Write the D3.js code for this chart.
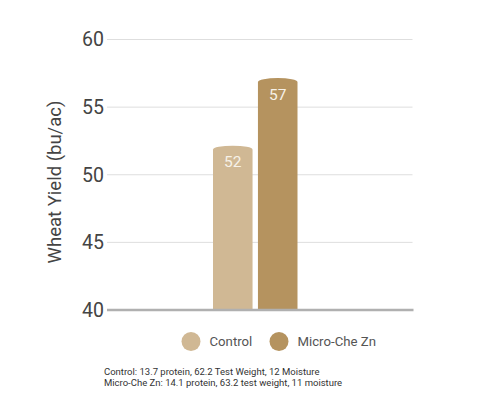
<!DOCTYPE html>
<html>
<head>
<meta charset="utf-8">
<script src="https://cdn.jsdelivr.net/npm/d3@7"></script>
<style>
  body { margin: 0; background: #fff; }
  svg { display: block; font-family: Roboto, "Noto Sans", sans-serif; }
</style>
</head>
<body>
<div id="chart"></div>
<script>
// Wheat yield bar chart

const width = 500;
const height = 414;

// data
const categories = ["Control", "Micro-Che Zn"];
const yields = [52, 57];
const colors = ["#d0b894", "#b5935f"];
const yTicks = [40, 45, 50, 55, 60];
const notes = [
  "Control: 13.7 protein, 62.2 Test Weight, 12 Moisture",
  "Micro-Che Zn: 14.1 protein, 63.2 test weight, 11 moisture"
];

const svg = d3.select("#chart")
  .append("svg")
  .attr("width", width)
  .attr("height", height);

// scales
const yScale = d3.scaleLinear()
  .domain([40, 60])
  .range([310, 39.5]);

const xScale = d3.scaleBand()
  .domain(categories)
  .range([213, 297.5])
  .paddingInner(0.12)
  .paddingOuter(0);

const plotLeft = 107, plotRight = 412.5;

// gridlines
svg.append("g")
  .selectAll("line")
  .data(yTicks.slice(1))
  .enter()
  .append("line")
    .attr("x1", plotLeft)
    .attr("x2", plotRight)
    .attr("y1", d => yScale(d))
    .attr("y2", d => yScale(d))
    .attr("stroke", "#dedede")
    .attr("stroke-width", 1);

// y axis (labels only)
const yAxis = svg.append("g")
  .attr("transform", `translate(${plotLeft}, 0)`)
  .call(d3.axisLeft(yScale).tickValues(yTicks).tickSize(0).tickPadding(3));
yAxis.select(".domain").remove();
yAxis.selectAll("text")
  .attr("font-size", "19.5px")
  .attr("font-family", "Roboto, sans-serif")
  .attr("fill", "#444");

// axis title
svg.append("text")
  .attr("transform", `translate(61, 182) rotate(-90)`)
  .attr("text-anchor", "middle")
  .attr("font-size", "18.5px")
  .attr("fill", "#444")
  .text("Wheat Yield (bu/ac)");

// bars with rounded cap
const capRy = 4;
const barPath = function(d, i) {
  const x0 = xScale(categories[i]);
  const x1 = x0 + xScale.bandwidth();
  const base = yScale(40);
  const top = yScale(d) + capRy / 2;
  const rx = xScale.bandwidth() / 2;
  return `M${x0},${base} L${x0},${top} A${rx},${capRy} 0 0 1 ${x1},${top} L${x1},${base} Z`;
};

svg.selectAll(".bar")
  .data(yields)
  .enter()
  .append("path")
    .attr("class", "bar")
    .attr("d", barPath)
    .attr("fill", (d, i) => colors[i]);

// value labels
svg.selectAll(".val")
  .data(yields)
  .enter()
  .append("text")
    .attr("class", "val")
    .attr("x", (d, i) => xScale(categories[i]) + xScale.bandwidth() / 2)
    .attr("y", d => yScale(d) + 19.5)
    .attr("text-anchor", "middle")
    .attr("font-size", "15.5px")
    .attr("fill", "#f7f2e8")
    .text(d => d);

// baseline
svg.append("line")
  .attr("x1", plotLeft)
  .attr("x2", plotRight + 1)
  .attr("y1", yScale(40))
  .attr("y2", yScale(40))
  .attr("stroke", "#b0b0b0")
  .attr("stroke-width", 2.5);

// legend
const legendX = [191, 279];
const legend = svg.selectAll(".legend")
  .data(categories)
  .enter()
  .append("g")
    .attr("class", "legend")
    .attr("transform", (d, i) => `translate(${legendX[i]}, 341.5)`);
legend.append("circle")
  .attr("r", 9.5)
  .attr("fill", (d, i) => colors[i]);
legend.append("text")
  .attr("x", 18.5)
  .attr("dy", "0.36em")
  .attr("font-size", "13.2px")
  .attr("fill", "#555")
  .text(d => d);

// footnote
svg.selectAll(".note")
  .data(notes)
  .enter()
  .append("text")
    .attr("class", "note")
    .attr("x", 104)
    .attr("y", (d, i) => 374.5 + i * 11)
    .attr("font-size", "9.5px")
    .attr("fill", "#333")
    .text(d => d);
</script>
</body>
</html>
